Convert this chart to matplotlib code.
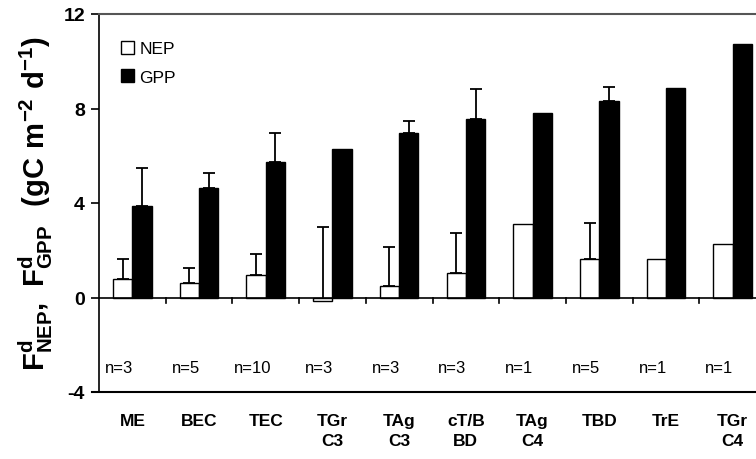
import numpy as np
import matplotlib
matplotlib.use("Agg")
import matplotlib.pyplot as plt
from matplotlib.patches import Patch

plt.rcParams["font.family"] = ["Liberation Sans", "DejaVu Sans"]
plt.rcParams["mathtext.fontset"] = "custom"
plt.rcParams["mathtext.rm"] = "Liberation Sans"
plt.rcParams["mathtext.bf"] = "Liberation Sans:bold"

# biome types
cats = ["ME", "BEC", "TEC", "TGr\nC3", "TAg\nC3", "cT/B\nBD", "TAg\nC4", "TBD", "TrE", "TGr\nC4"]
nsites = ["n=3", "n=5", "n=10", "n=3", "n=3", "n=3", "n=1", "n=5", "n=1", "n=1"]

nep = [0.8, 0.6, 0.97, -0.15, 0.5, 1.02, 3.1, 1.65, 1.65, 2.26]
nep_err = [0.85, 0.63, 0.89, 3.15, 1.63, 1.7, 0, 1.5, 0, 0]
gpp = [3.86, 4.62, 5.72, 6.27, 6.98, 7.54, 7.83, 8.33, 8.88, 10.72]
gpp_err = [1.61, 0.63, 1.23, 0, 0.49, 1.29, 0, 0.6, 0, 0]

x = np.arange(len(cats))
w = 0.29

fig = plt.figure(figsize=(7.56, 4.60), dpi=100)
ax = fig.add_axes([99/756, 1-393/460, 667/756, 378/460])

ax.bar(x - w/2, nep, w, color="white", edgecolor="black", linewidth=1.0, zorder=2)
ax.bar(x + w/2, gpp, w, color="black", edgecolor="black", linewidth=1.0, zorder=2)

# upward-only error bars, only where a spread was given
ekw = dict(fmt="none", ecolor="black", elinewidth=1.3, capsize=4, capthick=1.3, zorder=1)
for xs, vals, errs in [(x - w/2, nep, nep_err), (x + w/2, gpp, gpp_err)]:
    m = np.array(errs) > 0
    e = np.array(errs)[m]
    ax.errorbar(xs[m], np.array(vals)[m], yerr=[np.zeros_like(e), e], **ekw)

# zero line with group-boundary ticks
ax.axhline(0, color="black", lw=1.2, zorder=3)
for b in x[:-1] + 0.5:
    ax.plot([b, b], [0, -0.22], color="black", lw=1.2)

for i, s in enumerate(nsites):
    ax.text(i - 0.2, -2.95, s, ha="center", va="center", fontsize=12)

ax.set_xlim(-0.5, len(cats) - 0.5)
ax.set_ylim(-4, 12)
ax.set_yticks([-4, 0, 4, 8, 12])
ax.set_yticklabels(["-4", "0", "4", "8", "12"], fontsize=14, fontweight="bold")
ax.tick_params(axis="y", direction="out", length=6, width=1.2, pad=4)
ax.set_xticks(x)
ax.set_xticklabels(cats, fontsize=12.5, fontweight="bold", linespacing=1.45)
ax.tick_params(axis="x", length=0, pad=15)

ax.spines["right"].set_visible(False)
ax.spines["top"].set_color("#555555")
ax.spines["top"].set_linewidth(1.5)
ax.spines["left"].set_linewidth(1.2)
ax.spines["bottom"].set_linewidth(1.5)
ax.spines["bottom"].set_bounds(-0.6, len(cats))
ax.spines["bottom"].set_clip_on(False)

ax.set_ylabel(r"$\mathbf{F^{d}_{NEP},\ F^{d}_{GPP}\ \ (gC\ m^{-2}\ d^{-1})}$",
              fontsize=21, labelpad=6)

handles = [Patch(facecolor="white", edgecolor="black", lw=1.0),
           Patch(facecolor="black", edgecolor="black")]
ax.legend(handles, ["NEP", "GPP"], loc="upper left", frameon=False,
          fontsize=12.5, handlelength=0.75, handleheight=0.75, handletextpad=0.3,
          labelspacing=0.75, bbox_to_anchor=(0.01, 0.97))

fig.savefig("out.png", dpi=100)
